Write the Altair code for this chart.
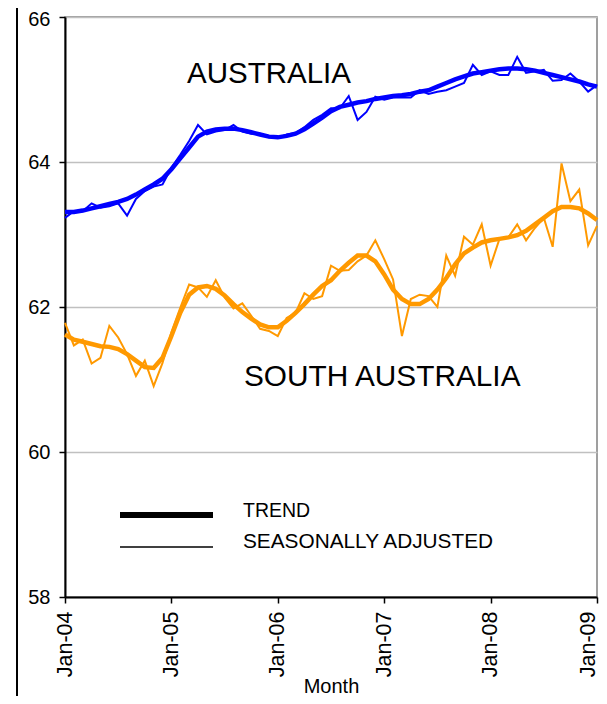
import altair as alt
import pandas as pd

MONTHS = list(range(61))  # Jan-04 .. Jan-09
TICK_MONTHS = [0, 12, 24, 36, 48, 60]
TICK_LABELS = ["Jan-04", "Jan-05", "Jan-06", "Jan-07", "Jan-08", "Jan-09"]

AUS_SA = [63.23, 63.32, 63.32, 63.43, 63.37, 63.39, 63.43, 63.26, 63.49, 63.60,
          63.66, 63.69, 63.92, 64.10, 64.29, 64.51, 64.38, 64.42, 64.44, 64.51,
          64.42, 64.39, 64.39, 64.34, 64.33, 64.38, 64.40, 64.48, 64.58, 64.65,
          64.74, 64.74, 64.91, 64.58, 64.69, 64.90, 64.86, 64.89, 64.89, 64.89,
          64.99, 64.94, 64.97, 64.99, 65.04, 65.09, 65.34, 65.20, 65.25, 65.20,
          65.20, 65.45, 65.23, 65.25, 65.27, 65.12, 65.13, 65.22, 65.11, 64.97, 65.06]
AUS_TREND = [63.31, 63.31, 63.33, 63.36, 63.39, 63.42, 63.45, 63.49, 63.55, 63.62,
             63.69, 63.77, 63.90, 64.05, 64.20, 64.35, 64.42, 64.45, 64.46, 64.46,
             64.44, 64.41, 64.38, 64.35, 64.34, 64.36, 64.39, 64.45, 64.53, 64.61,
             64.70, 64.76, 64.79, 64.82, 64.84, 64.87, 64.89, 64.91, 64.92, 64.94,
             64.97, 64.99, 65.04, 65.09, 65.14, 65.18, 65.22, 65.24, 65.26, 65.28,
             65.29, 65.29, 65.28, 65.26, 65.23, 65.20, 65.17, 65.14, 65.11, 65.07, 65.04]
SA_SA = [61.78, 61.47, 61.55, 61.22, 61.30, 61.74, 61.58, 61.35, 61.05, 61.26,
         60.91, 61.23, 61.65, 61.99, 62.31, 62.27, 62.14, 62.37, 62.13, 61.98,
         62.05, 61.88, 61.70, 61.67, 61.60, 61.85, 61.92, 62.19, 62.11, 62.15,
         62.57, 62.50, 62.51, 62.63, 62.71, 62.92, 62.66, 62.38, 61.60, 62.11,
         62.17, 62.15, 62.00, 62.71, 62.43, 62.97, 62.86, 63.14, 62.57, 62.94,
         62.96, 63.14, 62.92, 63.09, 63.23, 62.83, 63.98, 63.46, 63.62, 62.85, 63.12]
SA_TREND = [61.62, 61.55, 61.52, 61.49, 61.46, 61.45, 61.42, 61.35, 61.26, 61.17,
            61.16, 61.30, 61.60, 61.92, 62.17, 62.27, 62.29, 62.25, 62.16, 62.04,
            61.93, 61.84, 61.76, 61.72, 61.72, 61.81, 61.92, 62.04, 62.17, 62.29,
            62.37, 62.50, 62.61, 62.71, 62.71, 62.63, 62.45, 62.24, 62.11, 62.04,
            62.04, 62.11, 62.24, 62.40, 62.59, 62.74, 62.82, 62.89, 62.92, 62.94,
            62.96, 62.99, 63.05, 63.14, 63.23, 63.32, 63.38, 63.38, 63.36, 63.29, 63.20]

REGIONS = ["Australia", "South Australia"]
COLORS = ["#0000ff", "#ff9900"]

rows = []
for region, sa, tr in [("Australia", AUS_SA, AUS_TREND), ("South Australia", SA_SA, SA_TREND)]:
    for m, v in zip(MONTHS, sa):
        rows.append({"month": m, "value": v, "region": region, "kind": "sa"})
    for m, v in zip(MONTHS, tr):
        rows.append({"month": m, "value": v, "region": region, "kind": "trend"})
df = pd.DataFrame(rows)

label_expr = "[" + ",".join("'" + t + "'" for t in TICK_LABELS) + "][round(datum.value/12)]"
FONT = "Liberation Sans"

x = alt.X("month:Q", scale=alt.Scale(domain=[0, 60], nice=False, zero=False),
          axis=alt.Axis(values=TICK_MONTHS, labelExpr=label_expr, labelAngle=-90,
                        title="Month", grid=False, domainColor="black", domainWidth=2,
                        tickColor="black", tickWidth=1.5, tickSize=6, labelPadding=8,
                        labelFontSize=21.5, labelFont=FONT, labelColor="black",
                        labelOverlap=False, labelBound=False, labelFlush=False,
                        labelOffset={"condition": {"test": "datum.value >= 60", "value": -9},
                                     "value": 0},
                        titleFontSize=20, titleFont=FONT, titleFontWeight="normal",
                        titleColor="black", titlePadding=0))
y = alt.Y("value:Q", scale=alt.Scale(domain=[58, 66], nice=False, zero=False),
          axis=alt.Axis(values=[58, 60, 62, 64, 66], title=None, grid=True,
                        gridColor="#c0c0c0", gridWidth=1.5, domainColor="black",
                        domainWidth=2, tickColor="black", tickWidth=1.5, tickSize=6,
                        labelPadding=9, labelFontSize=20, labelFont=FONT,
                        labelColor="black", labelFlush=False,
                        labelOffset={"condition": {"test": "datum.value >= 66", "value": 2},
                                     "value": 0}))
color = alt.Color("region:N", scale=alt.Scale(domain=REGIONS, range=COLORS), legend=None)

base = alt.Chart(df)
thin = base.transform_filter(alt.datum.kind == "sa").mark_line(strokeWidth=2).encode(
    x=x, y=y, color=color, detail="region:N")
thick = base.transform_filter(alt.datum.kind == "trend").mark_line(strokeWidth=4.5).encode(
    x=x, y=y, color=color, detail="region:N")

one = pd.DataFrame({"a": [0]})
texts = []
for label, px, py, size in [("AUSTRALIA", 122, 66, 29.5), ("SOUTH AUSTRALIA", 179, 369, 29.8),
                            ("TREND", 178, 500, 19.5), ("SEASONALLY ADJUSTED", 178, 531, 20.8)]:
    texts.append(alt.Chart(one).mark_text(text=label, align="left", baseline="alphabetic",
                                          fontSize=size, font=FONT, color="black").encode(
        x=alt.value(px), y=alt.value(py)))

leg_thick = alt.Chart(one).mark_rule(color="black", strokeWidth=6).encode(
    x=alt.value(55), x2=alt.value(148), y=alt.value(498))
leg_thin = alt.Chart(one).mark_rule(color="black", strokeWidth=1.5).encode(
    x=alt.value(55), x2=alt.value(148), y=alt.value(530))
frame = alt.Chart(one).mark_rule(color="black", strokeWidth=2).encode(
    x=alt.value(-48), y=alt.value(-9), y2=alt.value(700))

chart = alt.layer(thin, thick, leg_thick, leg_thin, frame, *texts).properties(
    width=532, height=580,
    autosize=alt.AutoSizeParams(type="none"),
    padding={"left": 57, "top": 9, "right": 2, "bottom": 99},
).configure_view(stroke="#808080", strokeWidth=1.5)

chart.save("out.html", embed_options={"renderer": "svg", "actions": False})
